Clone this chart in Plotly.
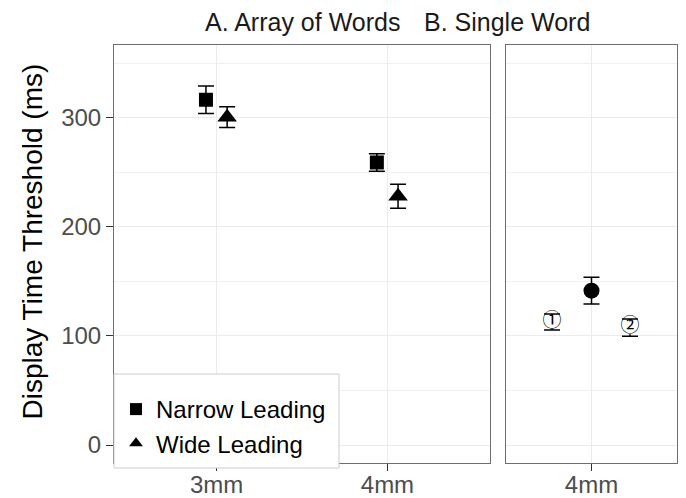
import plotly.graph_objects as go

# ---- data ----
sizes = ["3mm", "4mm"]
narrow_mean = [316.5, 259.0]
narrow_se = [12.5, 8.0]
wide_mean = [300.5, 228.0]
wide_se = [9.5, 11.0]

single_label = ["4mm"]
single_mean = [141.5]
single_se = [12.2]
ref_labels = ["①", "②"]
ref_mean = [112.7, 107.6]
ref_se = [7.3, 7.8]

y_ticks = [0, 100, 200, 300]
y_minor = [50, 150, 250, 350]

FONT = "Liberation Sans, Arial, sans-serif"
GRID = "#ebebeb"
BORDER = "#6e6e6e"

posA = list(range(1, len(sizes) + 1))
dodge = 0.062

fig = go.Figure()

fig.add_trace(go.Scatter(
    x=[p - dodge for p in posA], y=narrow_mean, mode="markers",
    name="Narrow Leading", legendgroup="n",
    marker=dict(symbol="square", size=14, color="black"),
    error_y=dict(type="data", array=narrow_se, color="black", thickness=1.5, width=8),
    xaxis="x", yaxis="y"))
fig.add_trace(go.Scatter(
    x=[p + dodge for p in posA], y=wide_mean, mode="markers",
    name="Wide Leading", legendgroup="w",
    marker=dict(symbol="triangle-up", size=17, color="black"),
    error_y=dict(type="data", array=wide_se, color="black", thickness=1.5, width=8),
    xaxis="x", yaxis="y"))

# panel B
fig.add_trace(go.Scatter(
    x=[1], y=single_mean, mode="markers", showlegend=False,
    marker=dict(symbol="circle", size=16, color="black"),
    error_y=dict(type="data", array=single_se, color="black", thickness=1.5, width=8),
    xaxis="x2", yaxis="y2"))
fig.add_trace(go.Scatter(
    x=[1 - 0.277, 1 + 0.27], y=ref_mean, mode="markers+text", showlegend=False,
    text=ref_labels, textposition="middle center",
    marker=dict(symbol="circle", size=13, color="white", line=dict(width=0)),
    textfont=dict(family="Noto Sans CJK JP", size=19, color="black"),
    error_y=dict(type="data", array=ref_se, color="black", thickness=1.5, width=8),
    xaxis="x2", yaxis="y2"))

# the page body has an 8px margin, so the figure is drawn 8px in from the corner
OFF = 8
W, H = 686 - OFF, 498 - OFF
ml, mr, mt, mb = 114 - OFF, 9, 45 - OFF, 35
pw = W - ml - mr
ph = H - mt - mb
dA = [0, (490 - 114) / pw]
dB = [(506 - 114) / pw, 1]

def px_x(p):  # p: pixel in the screenshot
    return (p - OFF - ml) / pw

def px_y(p):
    return (H - mb - (p - OFF)) / ph

yrange = [-16.5, 366.7]
common_x = dict(showgrid=True, gridcolor=GRID, gridwidth=1, zeroline=False,
                showline=True, mirror=True, linecolor=BORDER, linewidth=1,
                ticks="outside", ticklen=7, tickcolor="#333", tickwidth=1,
                automargin=False, ticklabelstandoff=-7,
                tickfont=dict(family=FONT, size=24, color="#4d4d4d"))
fig.update_layout(
    width=W, height=H,
    margin=dict(l=ml, r=mr, t=mt, b=mb, autoexpand=False),
    paper_bgcolor="white", plot_bgcolor="white",
    font=dict(family=FONT),
    xaxis=dict(domain=dA, range=[0.4, 2.6], tickvals=posA, ticktext=sizes, **common_x),
    xaxis2=dict(domain=dB, range=[0.4, 1.6], tickvals=[1], ticktext=single_label, **common_x),
    yaxis=dict(range=yrange, tickvals=y_ticks, showgrid=True, gridcolor=GRID, gridwidth=1,
               zeroline=False, showline=True, mirror=True, linecolor=BORDER, linewidth=1,
               ticks="outside", ticklen=7, tickcolor="#333", automargin=False,
               tickfont=dict(family=FONT, size=24, color="#4d4d4d"),
               minor=dict(tickvals=y_minor, showgrid=True, gridcolor="#f0f0f0",
                          gridwidth=1, ticks="")),
    yaxis2=dict(range=yrange, anchor="x2", matches="y", tickvals=y_ticks, showticklabels=False,
                showgrid=True, gridcolor=GRID, gridwidth=1, zeroline=False, automargin=False,
                showline=True, mirror=True, linecolor=BORDER, linewidth=1, ticks="",
                minor=dict(tickvals=y_minor, showgrid=True, gridcolor="#f0f0f0",
                           gridwidth=1, ticks="")),
    legend=dict(x=px_x(116), y=px_y(466), xanchor="left", yanchor="bottom",
                bgcolor="rgba(0,0,0,0)", borderwidth=0,
                font=dict(family=FONT, size=24, color="black"),
                itemsizing="constant", tracegroupgap=0),
    showlegend=True,
)

# legend box
fig.add_shape(type="rect", xref="paper", yref="paper",
              x0=px_x(114), x1=px_x(339), y0=px_y(468), y1=px_y(374),
              fillcolor="white", line=dict(color="#cccccc", width=1), layer="above")

fig.add_annotation(text="A. Array of Words", xref="paper", yref="paper",
                   x=(dA[0] + dA[1]) / 2, y=px_y(22), yanchor="middle",
                   showarrow=False, font=dict(family=FONT, size=25, color="#1a1a1a"))
fig.add_annotation(text="B. Single Word", xref="paper", yref="paper",
                   x=(dB[0] + dB[1]) / 2, y=px_y(22), yanchor="middle",
                   showarrow=False, font=dict(family=FONT, size=25, color="#1a1a1a"))
fig.add_annotation(text="Display Time Threshold (ms)", xref="paper", yref="paper",
                   x=px_x(32), y=px_y(241.5), xanchor="center", yanchor="middle",
                   textangle=-90, showarrow=False,
                   font=dict(family=FONT, size=28, color="black"))

fig.write_html("out.html")
